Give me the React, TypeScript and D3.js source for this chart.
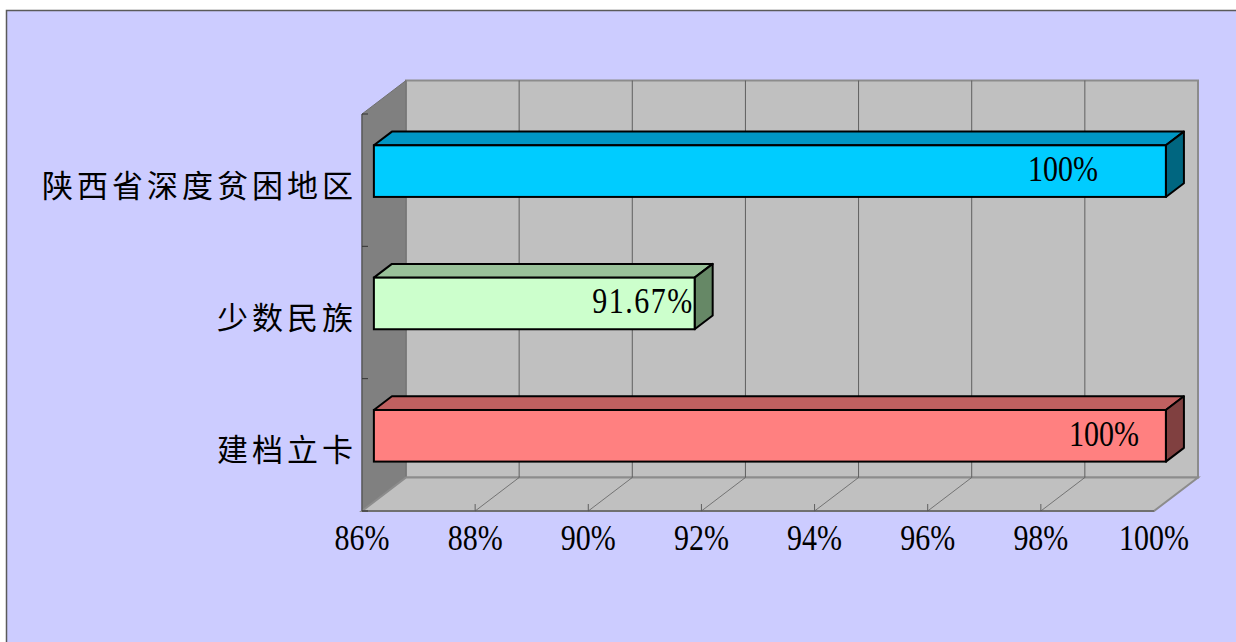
import React, { useEffect, useRef } from 'react'
import * as d3 from 'd3'

// categories top to bottom as shown
const categories = ['陕西省深度贫困地区', '少数民族', '建档立卡']
const values = [1.0, 0.9167, 1.0]
const valueLabels = ['100%', '91.67%', '100%']
const tickValues = [0.86, 0.88, 0.9, 0.92, 0.94, 0.96, 0.98, 1.0]
const tickLabels = ['86%', '88%', '90%', '92%', '94%', '96%', '98%', '100%']
const frontColors = ['#00CCFF', '#CCFFCC', '#FF8080']
const topColors = ['#0096C4', '#99C199', '#C06060']
const sideColors = ['#006680', '#668866', '#804040']

const W = 1236
const H = 642

export default function App() {
	const ref = useRef<SVGSVGElement>(null)

	useEffect(() => {
		const svg = d3.select(ref.current)
		svg.selectAll('*').remove()

		const x = d3.scaleLinear().domain([0.86, 1]).range([362, 1154])
		const y = d3.scaleBand().domain(categories).range([114, 511]).padding(0)
		// depth vector of the 3d box
		const Dx = 44
		const Dy = -33.5
		const d1 = 0.27
		const d2 = 0.68
		const barFrac = 0.39
		const labelNudge = [68, 1, 27]

		const x0 = x(0.86)
		const x1 = x(1)
		const yTop = 114
		const yBot = 511

		svg.append('rect').attr('width', W).attr('height', H).attr('fill', '#fff')
		svg
			.append('rect')
			.attr('x', 6.5)
			.attr('y', 10.5)
			.attr('width', W + 20)
			.attr('height', H + 20)
			.attr('fill', '#CCCCFF')
			.attr('stroke', '#5a5a5a')
			.attr('stroke-width', 1.5)

		const pts = (p: number[][]) => p.map((d) => d.join(',')).join(' ')

		// back wall
		svg
			.append('rect')
			.attr('x', x0 + Dx)
			.attr('y', yTop + Dy)
			.attr('width', x1 - x0)
			.attr('height', yBot - yTop)
			.attr('fill', '#C0C0C0')
			.attr('stroke', '#8c8c8c')
			.attr('stroke-width', 2)

		// side wall
		svg
			.append('polygon')
			.attr(
				'points',
				pts([
					[x0, yTop],
					[x0 + Dx, yTop + Dy],
					[x0 + Dx, yBot + Dy],
					[x0, yBot],
				])
			)
			.attr('fill', '#808080')
			.attr('stroke', '#707070')
			.attr('stroke-width', 1)

		// floor
		svg
			.append('polygon')
			.attr(
				'points',
				pts([
					[x0, yBot],
					[x0 + Dx, yBot + Dy],
					[x1 + Dx, yBot + Dy],
					[x1, yBot],
				])
			)
			.attr('fill', '#C0C0C0')
			.attr('stroke', '#8c8c8c')
			.attr('stroke-width', 2)

		const inner = tickValues.slice(1, -1)

		// back wall grid
		svg
			.append('g')
			.selectAll('line')
			.data(inner)
			.enter()
			.append('line')
			.attr('x1', (d) => x(d) + Dx)
			.attr('x2', (d) => x(d) + Dx)
			.attr('y1', yTop + Dy)
			.attr('y2', yBot + Dy)
			.attr('stroke', '#5f5f5f')
			.attr('stroke-width', 1)

		// floor grid
		svg
			.append('g')
			.selectAll('line')
			.data(inner)
			.enter()
			.append('line')
			.attr('x1', (d) => x(d))
			.attr('x2', (d) => x(d) + Dx)
			.attr('y1', yBot)
			.attr('y2', yBot + Dy)
			.attr('stroke', '#5f5f5f')
			.attr('stroke-width', 0.8)

		// value axis ticks
		svg
			.append('g')
			.selectAll('line')
			.data(inner)
			.enter()
			.append('line')
			.attr('x1', (d) => x(d))
			.attr('x2', (d) => x(d))
			.attr('y1', yBot - 7)
			.attr('y2', yBot)
			.attr('stroke', '#5f5f5f')
			.attr('stroke-width', 1)

		// front axis lines
		svg
			.append('line')
			.attr('x1', x0)
			.attr('x2', x0)
			.attr('y1', yTop)
			.attr('y2', yBot)
			.attr('stroke', '#555')
			.attr('stroke-width', 1.2)
		svg
			.append('line')
			.attr('x1', x0)
			.attr('x2', x1)
			.attr('y1', yBot)
			.attr('y2', yBot)
			.attr('stroke', '#555')
			.attr('stroke-width', 1.2)

		// category ticks
		const bounds = categories.map((c) => y(c) as number).concat([yBot])
		svg
			.append('g')
			.selectAll('line')
			.data(bounds)
			.enter()
			.append('line')
			.attr('x1', x0)
			.attr('x2', x0 + 6)
			.attr('y1', (d) => d)
			.attr('y2', (d) => d)
			.attr('stroke', '#333')
			.attr('stroke-width', 1)

		// bars
		const bw = y.bandwidth() * barFrac
		const bars = svg
			.append('g')
			.selectAll('g')
			.data(categories.map((c, i) => ({ c, v: values[i], i })))
			.enter()
			.append('g')

		const fx = (v: number) => x(v) + Dx * d1
		const bx = (v: number) => x(v) + Dx * d2
		const fy = (c: string) => (y(c) as number) + y.bandwidth() / 2 - bw / 2 + Dy * d1
		const by = (c: string) => (y(c) as number) + y.bandwidth() / 2 - bw / 2 + Dy * d2

		bars
			.append('polygon')
			.attr('points', (d) =>
				pts([
					[fx(0.86), fy(d.c)],
					[bx(0.86), by(d.c)],
					[bx(d.v), by(d.c)],
					[fx(d.v), fy(d.c)],
				])
			)
			.attr('fill', (d) => topColors[d.i])
			.attr('stroke', '#000')
			.attr('stroke-width', 2)
			.attr('stroke-linejoin', 'round')

		bars
			.append('polygon')
			.attr('points', (d) =>
				pts([
					[fx(d.v), fy(d.c)],
					[bx(d.v), by(d.c)],
					[bx(d.v), by(d.c) + bw],
					[fx(d.v), fy(d.c) + bw],
				])
			)
			.attr('fill', (d) => sideColors[d.i])
			.attr('stroke', '#000')
			.attr('stroke-width', 2)
			.attr('stroke-linejoin', 'round')

		bars
			.append('rect')
			.attr('x', fx(0.86))
			.attr('y', (d) => fy(d.c))
			.attr('width', (d) => fx(d.v) - fx(0.86))
			.attr('height', bw)
			.attr('fill', (d) => frontColors[d.i])
			.attr('stroke', '#000')
			.attr('stroke-width', 2)

		// value labels
		bars
			.append('text')
			.attr(
				'transform',
				(d) =>
					`translate(${fx(d.v) - labelNudge[d.i]},${fy(d.c) + bw / 2 + 10}) scale(1,1.17)`
			)
			.attr('text-anchor', 'end')
			.attr('font-family', '"Liberation Serif", serif')
			.attr('font-size', 30)
			.attr('letter-spacing', (d) => (d.i === 1 ? 1.5 : 0))
			.attr('fill', '#000')
			.text((d) => valueLabels[d.i])

		// category labels
		svg
			.append('g')
			.selectAll('text')
			.data(categories)
			.enter()
			.append('text')
			.attr('x', 357)
			.attr('y', (d) => (y(d) as number) + y.bandwidth() / 2 + 3)
			.attr('dominant-baseline', 'central')
			.attr('text-anchor', 'end')
			.attr('font-family', '"Noto Sans CJK SC", sans-serif')
			.attr('font-size', 31)
			.attr('letter-spacing', 4)
			.attr('fill', '#000')
			.text((d) => d)

		// value axis labels
		svg
			.append('g')
			.selectAll('text')
			.data(tickValues)
			.enter()
			.append('text')
			.attr('transform', (d) => `translate(${x(d)},550) scale(1,1.17)`)
			.attr('text-anchor', 'middle')
			.attr('font-family', '"Liberation Serif", serif')
			.attr('font-size', 30)
			.attr('fill', '#000')
			.text((d, i) => tickLabels[i])
	}, [])

	return (
		<div style={{ position: 'fixed', left: 0, top: 0, width: W, height: H }}>
			<svg ref={ref} width={W} height={H} style={{ display: 'block' }} />
		</div>
	)
}
